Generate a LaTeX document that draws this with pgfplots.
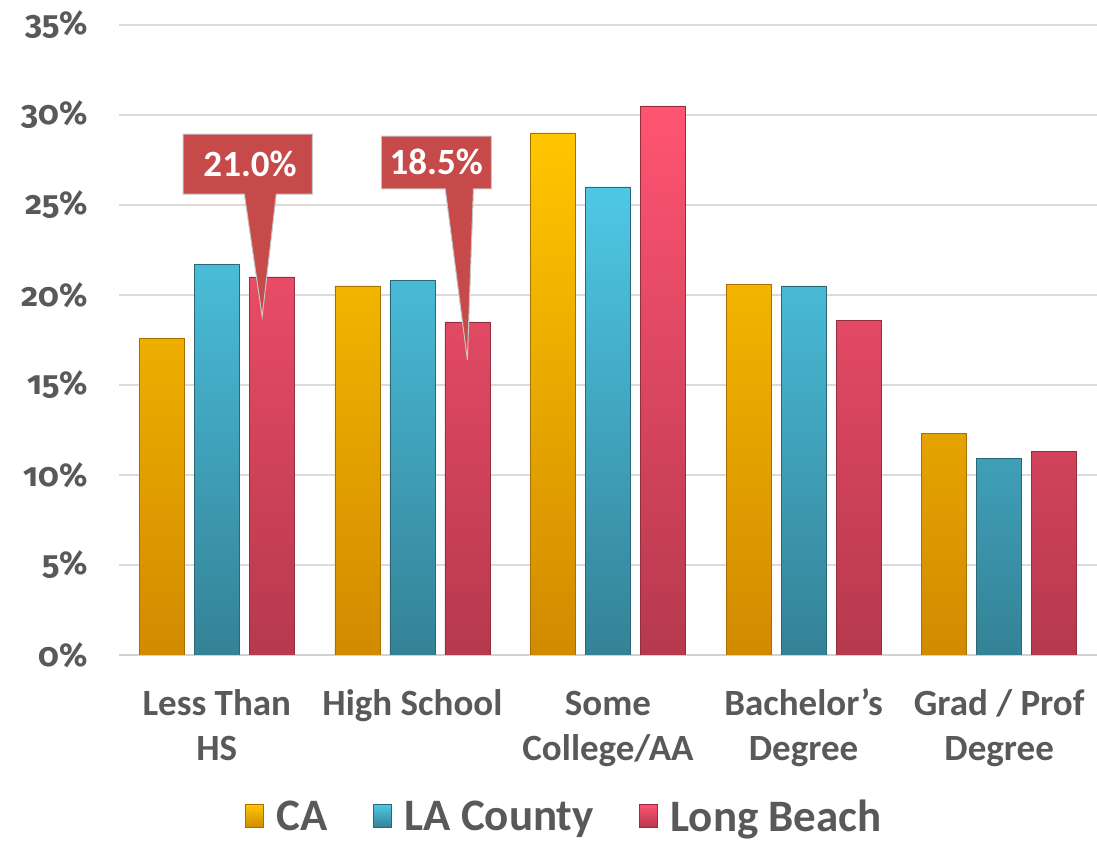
\documentclass[border=0pt]{standalone}
\usepackage{pgfplots}
\pgfplotsset{compat=1.18}
\usepackage{fontspec}
\setmainfont{Carlito}
\newfontfamily\osf{Fira Sans}[Numbers=OldStyle]
\definecolor{txt}{HTML}{595959}
\definecolor{caT}{HTML}{FFC600}
\definecolor{caB}{HTML}{D28A00}
\definecolor{laT}{HTML}{4EC8E6}
\definecolor{laB}{HTML}{348296}
\definecolor{lbT}{HTML}{FF5472}
\definecolor{lbB}{HTML}{B6394D}
\definecolor{cal}{HTML}{C64A4A}
\begin{document}
\begin{tikzpicture}[x=1pt,y=1pt]
\path[use as bounding box] (0,0) rectangle (1097,842);
\begin{axis}[
  at={(119pt,187pt)}, anchor=south west,
  scale only axis, width=978pt, height=630pt,
  xmin=-0.5, xmax=4.5, ymin=0, ymax=35,
  ytick={0,5,...,35},
  yticklabel={\osf\pgfmathprintnumber{\tick}\%},
  /pgf/number format/assume math mode=true,
  yticklabel style={font=\bfseries\fontsize{33}{35}\selectfont, text=txt, xshift=-28pt},
  xtick=data,
  xticklabels={{\strut Less Than\\\strut HS},{\strut High School},{\strut Some\\\strut College/AA},{\strut Bachelor's\\\strut Degree},{\strut Grad / Prof\\\strut Degree}},
  xticklabel style={font=\bfseries\fontsize{37}{45}\selectfont, text=txt, align=center, yshift=-25pt},
  major tick length=0pt,
  ymajorgrids, grid style={color=gray!28, line width=1.3pt},
  axis lines=left,
  y axis line style={draw=none},
  x axis line style={draw=gray!35, line width=1.5pt, -},
  ybar=10pt, bar width=45pt,
  legend columns=3,
  legend style={at={(0.455,-0.256)}, anchor=center, draw=none, fill=none, inner sep=0pt,
     font=\bfseries\fontsize{45}{47}\selectfont, text=txt,
     nodes={inner sep=1pt},
     /tikz/every even column/.append style={column sep=44pt},
     /tikz/every odd column/.append style={column sep=12pt}},
  legend image code/.code={\draw[#1] (0pt,-11pt) rectangle (18pt,12pt);},
]
\addplot[top color=caT, bottom color=caB, draw=caB!80!black, line width=0.6pt] coordinates {(0,17.6) (1,20.5) (2,29.0) (3,20.6) (4,12.3)};
\addplot[top color=laT, bottom color=laB, draw=laB!80!black, line width=0.6pt] coordinates {(0,21.7) (1,20.8) (2,26.0) (3,20.5) (4,10.9)};
\addplot[top color=lbT, bottom color=lbB, draw=lbB!80!black, line width=0.6pt] coordinates {(0,21.0) (1,18.5) (2,30.5) (3,18.6) (4,11.3)};
\legend{CA,LA County,Long Beach}
\draw[fill=cal, draw=gray!45, line width=1pt]
  (axis cs:-0.172,28.94) -- (axis cs:0.488,28.94) -- (axis cs:0.488,25.6) -- (axis cs:0.304,25.6)
  -- (axis cs:0.232,18.8) -- (axis cs:0.141,25.6) -- (axis cs:-0.172,25.6) -- cycle;
\node[text=white, font=\bfseries\fontsize{37}{39}\selectfont] at (axis cs:0.17,27.3) {21.0\%};
\draw[fill=cal, draw=gray!45, line width=1pt]
  (axis cs:0.841,28.83) -- (axis cs:1.404,28.83) -- (axis cs:1.404,25.89) -- (axis cs:1.312,25.89)
  -- (axis cs:1.281,16.4) -- (axis cs:1.168,25.89) -- (axis cs:0.841,25.89) -- cycle;
\node[text=white, font=\bfseries\fontsize{37}{39}\selectfont] at (axis cs:1.122,27.4) {18.5\%};
\end{axis}
\end{tikzpicture}
\end{document}
